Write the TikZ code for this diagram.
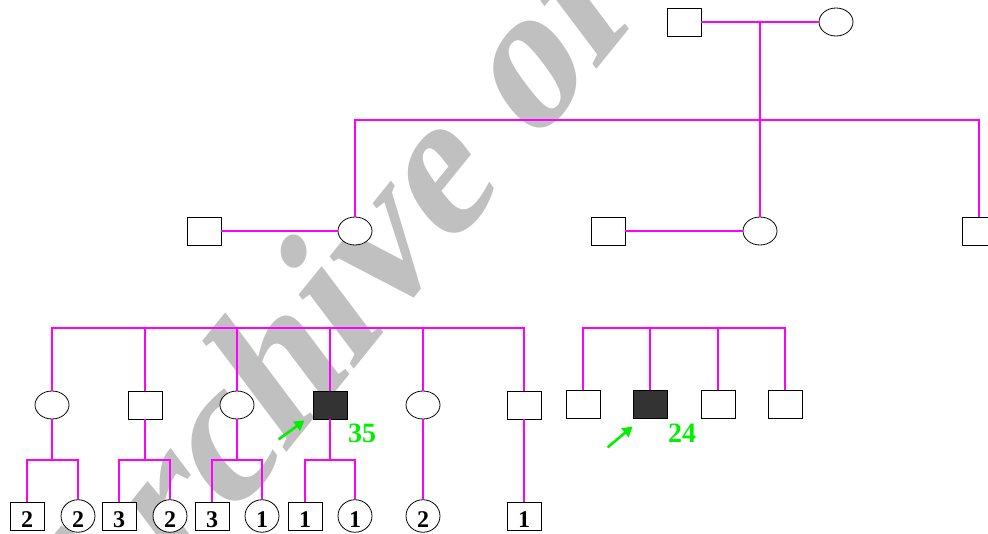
\documentclass[tikz,border=0pt]{standalone}
\usepackage{fontspec}
\setmainfont{Liberation Serif}
\newfontfamily\wmfont{Liberation Serif}[UprightFont={* Bold}, FakeSlant=0.25]
\usetikzlibrary{shapes.geometric,arrows.meta,calc}
\definecolor{kin}{RGB}{255,0,255}
\definecolor{probandgreen}{RGB}{0,240,0}
\definecolor{wmgray}{RGB}{192,192,192}
\definecolor{affect}{RGB}{51,51,51}
\newcommand{\sibcount}[1]{#1\hspace{6pt}}
\tikzset{
  male/.style={draw=black, fill=white, line width=0.8pt, minimum width=34pt, minimum height=28pt, inner sep=0pt},
  female/.style={male, ellipse},
  affected/.style={male, fill=affect},
  kinline/.style={draw=kin, line width=1.2pt},
  count/.style={font=\bfseries\fontsize{24}{24}\selectfont, text height=23pt, text depth=0pt},
  age/.style={text=probandgreen, font=\bfseries\fontsize{28}{28}\selectfont, inner sep=0pt},
  proband/.style={draw=probandgreen, line width=2.6pt, -{Triangle[length=10pt,width=11pt]}, probandgreen},
  watermark/.style={text=wmgray, font=\wmfont\fontsize{195}{195}\selectfont, inner sep=0pt}
}
\begin{document}
\begin{tikzpicture}[x=1pt,y=-1pt]
\useasboundingbox (0,0) rectangle (988,534);
\clip (0,0) rectangle (988,534);
% watermark behind the chart
\node[watermark, rotate=51, anchor=base west] (wm) at (88,698) {Archive of SID};
% first generation
\node[male] (gp) at (684,22) {};
\node[female] (gm) at (836,22) {};
\coordinate (top) at (760,22);
\coordinate (sib) at (760,120);
% second generation
\node[male] (f1) at (204,231) {};
\node[female] (mo) at (355,231) {};
\node[male] (f2) at (608,231) {};
\node[female] (au) at (760,231) {};
\node[male] (un) at (979,231) {};
\draw[kinline] (gp) -- (gm);
\draw[kinline] (top) -- (au);
\draw[kinline] (mo.north) -- (mo.north |- sib) -- (un.north |- sib) -- (un.north);
\draw[kinline] (f1) -- (mo);
\draw[kinline] (f2) -- (au);
% third generation
\coordinate (bar) at (0,328);
\coordinate (sub) at (0,460);
\node[female] (s1) at (52,405) {};
\node[male] (s2) at (145,405) {};
\node[female] (s3) at (237,405) {};
\node[affected] (s4) at (330,405) {};
\node[female] (s5) at (423,405) {};
\node[male] (s6) at (524,405) {};
\node[male] (r1) at (583,404) {};
\node[affected] (r2) at (650,404) {};
\node[male] (r3) at (718,404) {};
\node[male] (r4) at (785,404) {};
\draw[kinline] ($(f1)!.5!(mo)$) -- ($(f1)!.5!(mo)$ |- bar);
\draw[kinline] (s1.north) -- (s1.north |- bar) -- (s6.north |- bar) -- (s6.north);
\foreach \k in {2,...,5}
  \draw[kinline] (s\k.north) -- (s\k.north |- bar);
\draw[kinline] ($(f2)!.5!(au)$) -- ($(f2)!.5!(au)$ |- bar);
\draw[kinline] (r1.north) -- (r1.north |- bar) -- (r4.north |- bar) -- (r4.north);
\foreach \k in {2,3}
  \draw[kinline] (r\k.north) -- (r\k.north |- bar);
% fourth generation, with sibship sizes
\node[male, count] (g1) at (27,516) {\sibcount{2}};
\node[female, count] (g2) at (78,516) {\sibcount{2}};
\node[male, count] (g3) at (119,516) {\sibcount{3}};
\node[female, count] (g4) at (170,516) {\sibcount{2}};
\node[male, count] (g5) at (212,516) {\sibcount{3}};
\node[female, count] (g6) at (262,516) {\sibcount{1}};
\node[male, count] (g7) at (305,516) {\sibcount{1}};
\node[female, count] (g8) at (355,516) {\sibcount{1}};
\node[female, count] (g9) at (423,516) {\sibcount{2}};
\node[male, count] (g10) at (524,516) {\sibcount{1}};
\foreach \p/\a/\b in {s1/g1/g2, s2/g3/g4, s3/g5/g6, s4/g7/g8} {
  \draw[kinline] (\p.south) -- (\p.south |- sub);
  \draw[kinline] (\a.north) |- (\b.north |- sub) -- (\b.north);
}
\draw[kinline] (s5) -- (g9);
\draw[kinline] (s6) -- (g10);
% probands
\draw[proband] ([shift={(-34pt,-20pt)}]s4.south west) -- ([shift={(-8pt,-1pt)}]s4.south west);
\draw[proband] ([shift={(-25pt,-29pt)}]r2.south west) -- ([shift={(0pt,-8pt)}]r2.south west);
\node[age] (a35) at (362,433) {35};
\node[age] (a24) at (682,433) {24};
\end{tikzpicture}
\end{document}
